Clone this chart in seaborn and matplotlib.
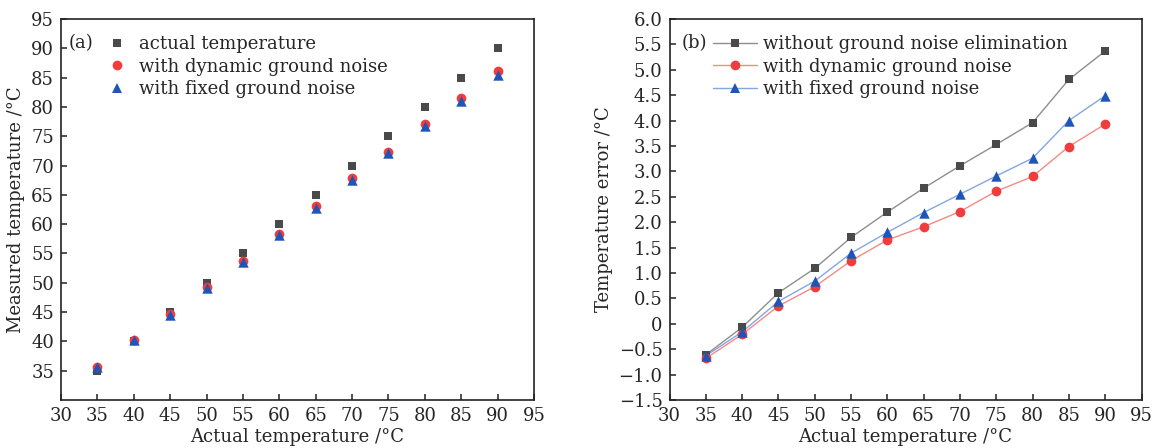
import matplotlib
matplotlib.use("Agg")
import matplotlib.pyplot as plt
from matplotlib.lines import Line2D
from matplotlib.ticker import FuncFormatter
import numpy as np
import pandas as pd
import seaborn as sns

# Actual temperatures (°C)
actual = [35, 40, 45, 50, 55, 60, 65, 70, 75, 80, 85, 90]

# (a) measured temperatures (°C)
measured_actual = [35, 40, 45, 50, 55, 60, 65, 70, 75, 80, 85, 90]
measured_dynamic = [35.68, 40.21, 44.65, 49.27, 53.76, 58.35, 63.09, 67.79, 72.39, 77.10, 81.51, 86.07]
measured_fixed = [35.63, 40.16, 44.56, 49.16, 53.61, 58.20, 62.81, 67.45, 72.09, 76.74, 81.00, 85.51]

# (b) temperature errors (°C)
err_without = [-0.61, -0.07, 0.61, 1.09, 1.70, 2.20, 2.67, 3.11, 3.53, 3.96, 4.81, 5.37]
err_dynamic = [-0.68, -0.21, 0.35, 0.73, 1.24, 1.65, 1.91, 2.21, 2.61, 2.90, 3.49, 3.93]
err_fixed = [-0.63, -0.16, 0.44, 0.84, 1.39, 1.80, 2.19, 2.55, 2.91, 3.26, 4.00, 4.49]

labels_a = ["actual temperature", "with dynamic ground noise", "with fixed ground noise"]
labels_b = ["without ground noise elimination", "with dynamic ground noise", "with fixed ground noise"]

x_ticks = [30, 35, 40, 45, 50, 55, 60, 65, 70, 75, 80, 85, 90, 95]
y_ticks_a = [35, 40, 45, 50, 55, 60, 65, 70, 75, 80, 85, 90, 95]
y_ticks_b = [-1.5, -1.0, -0.5, 0, 0.5, 1.0, 1.5, 2.0, 2.5, 3.0, 3.5, 4.0, 4.5, 5.0, 5.5, 6.0]

marker_colors = ["#4a4a4a", "#f03c3c", "#1f55b8"]
line_colors = ["#8e8e8e", "#f58a84", "#84a6e2"]
markers = ["s", "o", "^"]
marker_sizes = [6, 7, 7.5]

sns.set_theme(style="ticks")
plt.rcParams["font.family"] = ["DejaVu Serif"]
plt.rcParams["mathtext.fontset"] = "dejavuserif"
FS = 13

fig = plt.figure(figsize=(11.58, 4.48), dpi=100)
ax_a = fig.add_axes([61 / 1158, 1 - 400 / 448, 473 / 1158, 381 / 448])
ax_b = fig.add_axes([669.5 / 1158, 1 - 400 / 448, 472 / 1158, 381 / 448])

# ---- (a) measured vs actual temperature ----
df_a = pd.DataFrame({
    "actual": actual * 3,
    "measured": measured_actual + measured_dynamic + measured_fixed,
    "series": [labels_a[0]] * 12 + [labels_a[1]] * 12 + [labels_a[2]] * 12,
})
for i, lab in enumerate(labels_a):
    sub = df_a[df_a["series"] == lab]
    sns.scatterplot(data=sub, x="actual", y="measured", ax=ax_a, marker=markers[i],
                    color=marker_colors[i], s=marker_sizes[i] ** 2, linewidth=0,
                    legend=False, zorder=3 + i)

handles_a = [Line2D([], [], linestyle="none", marker=markers[i], color=marker_colors[i],
                    markersize=marker_sizes[i], markeredgewidth=0) for i in range(3)]
ax_a.legend(handles_a, labels_a, loc="upper left", bbox_to_anchor=(0.092, 0.967),
            frameon=False, fontsize=FS, handlelength=1.0, handletextpad=0.7,
            labelspacing=0.24, borderpad=0.2, borderaxespad=0)
ax_a.text(0.016, 0.937, "(a)", transform=ax_a.transAxes, fontsize=FS, va="center", ha="left")

ax_a.set_xlim(30, 95)
ax_a.set_ylim(30, 95)
ax_a.set_xticks(x_ticks)
ax_a.set_yticks(y_ticks_a)
ax_a.set_xlabel("Actual temperature /°C", fontsize=FS, labelpad=2)
ax_a.set_ylabel("Measured temperature /°C", fontsize=FS, labelpad=4)

# ---- (b) temperature error ----
df_b = pd.DataFrame({
    "actual": actual * 3,
    "error": err_without + err_dynamic + err_fixed,
    "series": [labels_b[0]] * 12 + [labels_b[1]] * 12 + [labels_b[2]] * 12,
})
for i, lab in enumerate(labels_b):
    sub = df_b[df_b["series"] == lab]
    sns.lineplot(data=sub, x="actual", y="error", ax=ax_b, color=line_colors[i],
                 linewidth=1.0, legend=False, zorder=2)
for i, lab in enumerate(labels_b):
    sub = df_b[df_b["series"] == lab]
    sns.scatterplot(data=sub, x="actual", y="error", ax=ax_b, marker=markers[i],
                    color=marker_colors[i], s=marker_sizes[i] ** 2, linewidth=0,
                    legend=False, zorder=3 + i)

handles_b = [Line2D([], [], color=line_colors[i], linewidth=1.0, marker=markers[i],
                    markerfacecolor=marker_colors[i], markeredgewidth=0,
                    markersize=marker_sizes[i]) for i in range(3)]
ax_b.legend(handles_b, labels_b, loc="upper left", bbox_to_anchor=(0.085, 0.967),
            frameon=False, fontsize=FS, handlelength=2.45, handletextpad=0.3,
            labelspacing=0.24, borderpad=0.2, borderaxespad=0)
ax_b.text(0.025, 0.937, "(b)", transform=ax_b.transAxes, fontsize=FS, va="center", ha="left")

ax_b.set_xlim(30, 95)
ax_b.set_ylim(-1.5, 6.0)
ax_b.set_xticks(x_ticks)
ax_b.set_yticks(y_ticks_b)
ax_b.yaxis.set_major_formatter(FuncFormatter(
    lambda v, p: "0" if abs(v) < 1e-9 else f"{v:.1f}".replace("-", "\u2212")))
ax_b.set_xlabel("Actual temperature /°C", fontsize=FS, labelpad=2)
ax_b.set_ylabel("Temperature error /°C", fontsize=FS, labelpad=4)

for ax in (ax_a, ax_b):
    for side in ("top", "right", "left", "bottom"):
        ax.spines[side].set_visible(True)
        ax.spines[side].set_linewidth(1.2)
        ax.spines[side].set_color("#222222")
    ax.tick_params(axis="both", direction="in", length=4.5, width=1.1, color="#222222",
                   labelsize=FS, pad=5, top=False, right=False)
    ax.set_facecolor("white")

fig.savefig("out.png", dpi=100, facecolor="white")
